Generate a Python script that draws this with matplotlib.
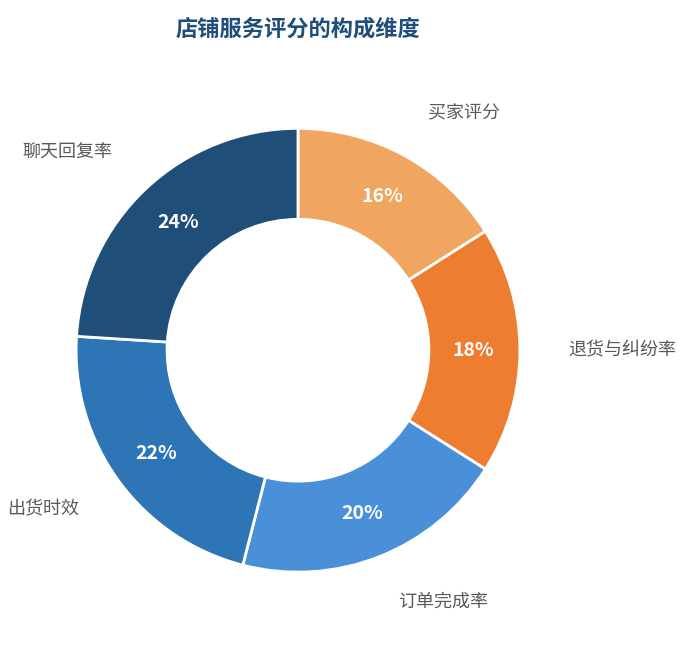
import matplotlib
matplotlib.use("Agg")
import matplotlib.pyplot as plt

plt.rcParams['font.family'] = ['Noto Sans CJK SC', 'DejaVu Sans']

categories = ['买家评分', '退货与纠纷率', '订单完成率', '出货时效', '聊天回复率']
values = [16, 18, 20, 22, 24]
colors = ['#F0A560', '#ED7D31', '#4A90D9', '#2E75B6', '#1F4E79']

fig = plt.figure(figsize=(6.85, 6.45), dpi=100)
ax = fig.add_axes([0.111, 0.113, 0.648, 0.688])
wedges, texts, autotexts = ax.pie(
    values, labels=categories, colors=colors, startangle=90, counterclock=False,
    autopct='%d%%', pctdistance=0.79, labeldistance=1.22,
    wedgeprops=dict(width=0.41, edgecolor='white', linewidth=2),
    textprops=dict(fontsize=13, color='#595959'))
for t in autotexts:
    t.set_color('white'); t.set_fontweight('bold'); t.set_fontsize(14)
ax.set_xlim(-1, 1)
ax.set_ylim(-1, 1)
ax.set_aspect('equal')
fig.text(0.435, 0.955, '店铺服务评分的构成维度', ha='center', va='center',
         fontsize=16, fontweight='bold', color='#1F4E79')
fig.savefig('out.png', dpi=100)
